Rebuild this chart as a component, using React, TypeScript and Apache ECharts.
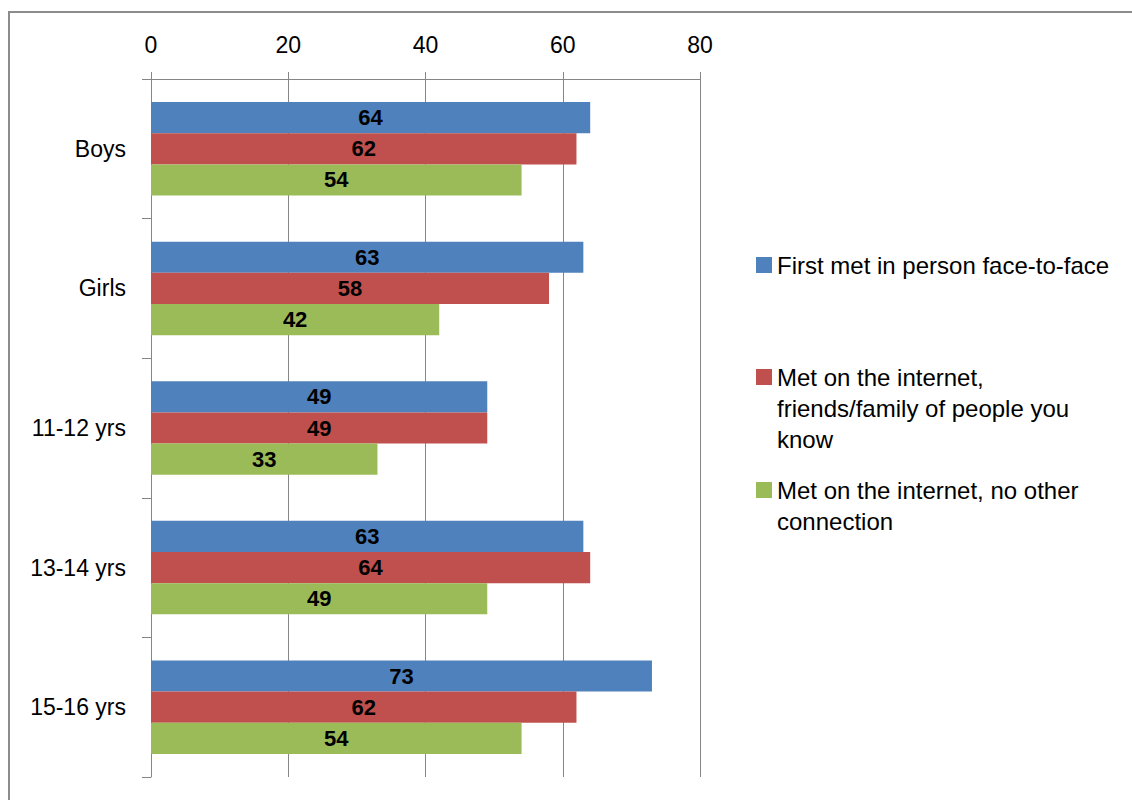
import React, { useEffect, useRef } from "react";
import * as echarts from "echarts";

const categories = ["Boys", "Girls", "11-12 yrs", "13-14 yrs", "15-16 yrs"];
const seriesNames = [
  "First met in person face-to-face",
  "Met on the internet, friends/family of people you know",
  "Met on the internet, no other connection",
];
const legendLines = [
  ["First met in person face-to-face"],
  ["Met on the internet,", "friends/family of people you", "know"],
  ["Met on the internet, no other", "connection"],
];
const faceToFace = [64, 63, 49, 63, 73];
const friendsFamily = [62, 58, 49, 64, 62];
const noConnection = [54, 42, 33, 49, 54];
const xTicks = { min: 0, max: 80, interval: 20 };
const colors = ["#4F81BD", "#C0504D", "#9BBB59"];

const FONT = "'Liberation Sans', Arial, sans-serif";

export default function App() {
  const ref = useRef<HTMLDivElement>(null);
  useEffect(() => {
    document.body.style.margin = "0";
    const chart = echarts.init(ref.current!, undefined, { renderer: "svg" });
    const values = [faceToFace, friendsFamily, noConnection];
    const iconCenters = [265, 377, 490];
    const LH = 31;
    chart.setOption({
      animation: false,
      textStyle: { fontFamily: FONT },
      grid: { left: 151, right: 432, top: 79, bottom: 23, containLabel: false },
      xAxis: {
        type: "value",
        position: "top",
        min: xTicks.min,
        max: xTicks.max,
        interval: xTicks.interval,
        axisLine: { show: true, lineStyle: { color: "#868686", width: 1 } },
        axisTick: { show: true, length: 7, lineStyle: { color: "#868686" } },
        axisLabel: { margin: 23, fontSize: 23, color: "#000", fontFamily: FONT },
        splitLine: { show: true, lineStyle: { color: "#868686", width: 1 } },
      },
      yAxis: {
        type: "category",
        inverse: true,
        data: categories,
        axisLine: { show: true, lineStyle: { color: "#868686", width: 1 } },
        axisTick: { show: true, length: 9, lineStyle: { color: "#868686" } },
        axisLabel: { margin: 25, fontSize: 23, color: "#000", fontFamily: FONT },
      },
      legend: seriesNames.map((name, i) => {
        const n = legendLines[i].length;
        const pad = n - 1; // blank lines before so the first line sits beside the icon
        const total = n + pad;
        const text = new Array(pad).fill("").concat(legendLines[i]).join("\n");
        return {
          data: [name],
          left: 756 - 5,
          top: iconCenters[i] - (total * LH) / 2 - 5,
          orient: "vertical",
          itemWidth: 16,
          itemHeight: 16,
          icon: "rect",
          itemGap: 0,
          formatter: () => text,
          textStyle: {
            fontSize: 24,
            lineHeight: LH,
            color: "#000",
            fontFamily: FONT,
          },
          selectedMode: false,
        };
      }),
      series: seriesNames.map((name, i) => ({
        name,
        type: "bar",
        data: values[i],
        barGap: "0%",
        barCategoryGap: "33%",
        itemStyle: { color: colors[i] },
        label: {
          show: true,
          position: "inside",
          color: "#000",
          fontWeight: "bold",
          fontSize: 22,
          fontFamily: FONT,
        },
      })),
      graphic: [
        {
          type: "rect",
          shape: { x: 9, y: 12, width: 1130, height: 800 },
          style: { fill: "none", stroke: "#8c8c8c", lineWidth: 2 },
          silent: true,
        },
      ],
    });
    return () => chart.dispose();
  }, []);
  return <div ref={ref} style={{ width: 1132, height: 800 }} />;
}
